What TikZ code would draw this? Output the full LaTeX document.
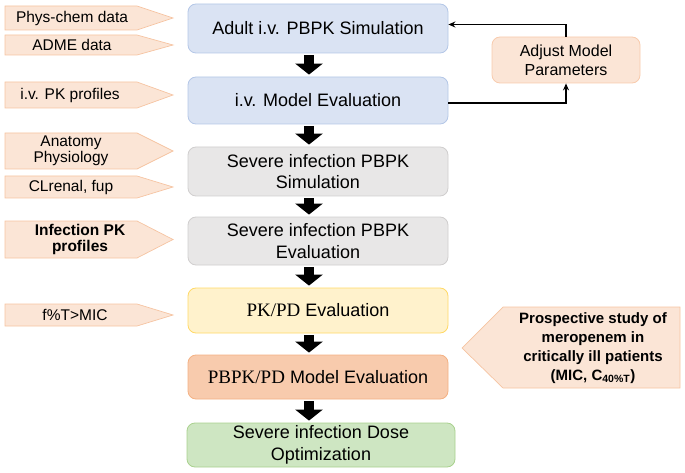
\documentclass[tikz,border=0pt]{standalone}
\usepackage{fontspec}
\setmainfont{Liberation Sans}
\newfontfamily\pdserif{Liberation Serif}
\usepackage{xcolor}
\usetikzlibrary{arrows.meta}
\definecolor{blueF}{RGB}{218,227,243}
\definecolor{blueD}{RGB}{180,199,231}
\definecolor{greyF}{RGB}{232,231,231}
\definecolor{greyD}{RGB}{208,206,206}
\definecolor{yellowF}{RGB}{255,242,204}
\definecolor{yellowD}{RGB}{255,217,102}
\definecolor{orangeF}{RGB}{248,203,173}
\definecolor{orangeD}{RGB}{244,177,131}
\definecolor{greenF}{RGB}{206,230,194}
\definecolor{greenD}{RGB}{169,209,142}
\definecolor{peachF}{RGB}{251,229,214}
\definecolor{peachD}{RGB}{246,196,162}
\newcommand{\LeftX}{5}
\newcommand{\BodyEnd}{137}
\newcommand{\TipX}{173}
\newcommand{\MidX}{318}
\newcommand{\ArrowX}{309}
\newcommand{\InputArrow}[5]{% name, top, bottom, text x, text
  \draw[inarrow] (\LeftX,#2) -- (\BodyEnd,#2) -- (\TipX,{(#2+#3)/2}) -- (\BodyEnd,#3) -- (\LeftX,#3) -- cycle;
  \node[intext] (#1) at (#4,{(#2+#3)/2}) {#5};}

\begin{document}
\begin{tikzpicture}[x=1pt,y=-1pt,
  stepbox/.style={draw,rounded corners=8pt,line width=0.8pt,minimum width=260pt,
    align=center,inner sep=0pt,font=\fontsize{18}{21.6}\selectfont},
  inarrow/.style={fill=peachF,draw=peachD,line width=0.7pt},
  intext/.style={align=center,inner sep=0pt,font=\fontsize{15.5}{16}\selectfont},
  flowarrow/.style={line width=10pt,-{Triangle[width=27pt,length=11pt]},
    shorten <=2pt,shorten >=2pt},
  feedback/.style={line width=1.4pt,-{Stealth[length=7pt,width=6pt]}}]
\useasboundingbox (0,0) rectangle (685,473);

% main flow
\node[stepbox,fill=blueF,draw=blueD,minimum height=49pt] (adult) at (\MidX,28.5) {Adult i.v. PBPK Simulation};
\node[stepbox,fill=blueF,draw=blueD,minimum height=47pt] (ivmodel) at (\MidX,100.5) {i.v. Model Evaluation};
\node[stepbox,fill=greyF,draw=greyD,minimum height=49pt] (sevsim) at (\MidX,171.5) {Severe infection PBPK\\Simulation};
\node[stepbox,fill=greyF,draw=greyD,minimum height=48pt] (seveval) at (\MidX,241) {Severe infection PBPK\\Evaluation};
\node[stepbox,fill=yellowF,draw=yellowD,minimum height=45pt] (pkpd) at (\MidX,310.5) {{\pdserif\fontsize{19}{21.6}\selectfont PK/PD} Evaluation};
\node[stepbox,fill=orangeF,draw=orangeD,minimum height=44pt] (pbpkpd) at (\MidX,377) {{\pdserif\fontsize{19}{21.6}\selectfont PBPK/PD} Model Evaluation};
\node[stepbox,fill=greenF,draw=greenD,minimum height=44pt,minimum width=268pt] (dose) at (321,445) {Severe infection Dose\\Optimization};

\foreach \a/\b in {adult/ivmodel,ivmodel/sevsim,sevsim/seveval,seveval/pkpd,pkpd/pbpkpd,pbpkpd/dose}{
  \draw[flowarrow] (\a.south -| \ArrowX,0) -- (\b.north -| \ArrowX,0);
}

% feedback loop
\node[stepbox,fill=peachF,draw=orangeF,minimum width=148pt,minimum height=46pt,
  font=\fontsize{16}{19}\selectfont] (adjust) at (566,60) {Adjust Model\\Parameters};
\draw[feedback] ([yshift=-2.5pt]ivmodel.east) -| (adjust.south);
\draw[feedback] (adjust.north) |- ([yshift=4pt]adult.east);

% inputs
\InputArrow{physchem}{6}{30}{72}{Phys-chem data}
\InputArrow{adme}{35}{55}{72}{ADME data}
\InputArrow{ivpk}{82}{108}{70}{i.v. PK profiles}
\InputArrow{anatomy}{133}{169}{71}{Anatomy\\Physiology}
\InputArrow{clrenal}{176}{198}{71}{CLrenal, fup}
\InputArrow{infpk}{221}{258}{80}{\bfseries Infection PK\\\bfseries profiles}
\InputArrow{fmic}{304}{326}{75}{f\%T>MIC}

% clinical study
\draw[inarrow] (680,307) -- (503,307) -- (462,348) -- (503,388) -- (680,388) -- cycle;
\node[align=center,inner sep=0pt,font=\bfseries\fontsize{15}{19}\selectfont] (study) at (593,348)
  {Prospective study of\\meropenem in\\critically ill patients\\(MIC, C\textsubscript{40\%T})};
\end{tikzpicture}
\end{document}
